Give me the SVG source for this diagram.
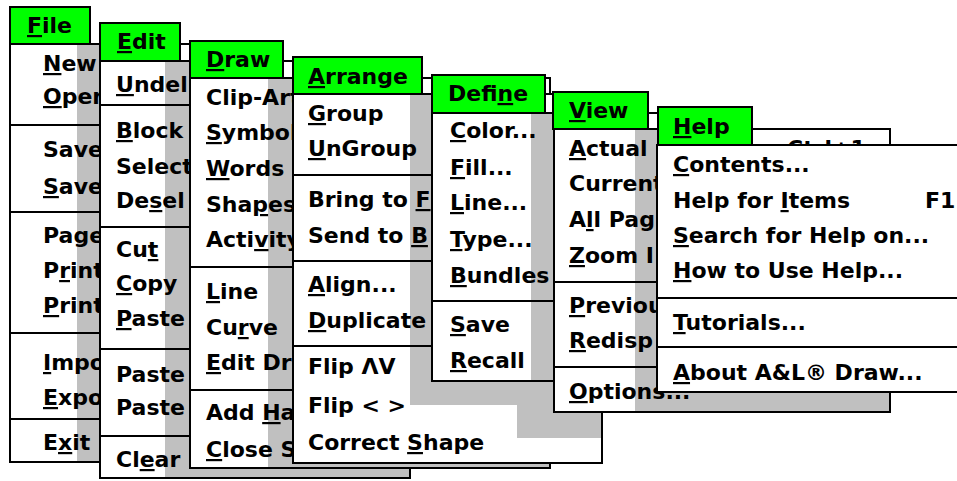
<svg xmlns="http://www.w3.org/2000/svg" width="957" height="481" viewBox="0 0 957 481">
<style>
  text { font-family: "DejaVu Sans", "Liberation Sans", sans-serif; font-weight: bold; font-size: 22px; fill: #000; }
  .u { text-decoration: underline; text-decoration-thickness: 2px; text-underline-offset: 3px; }
  .body { fill: #fff; }
  .frame { fill: none; stroke: #000; stroke-width: 2; }
  .shade { fill: #c0c0c0; }
  .bar { fill: #00ff00; stroke: #000; stroke-width: 2; }
  .sep { stroke: #000; stroke-width: 2; }
</style>
<defs>
  <!-- only the strip of the View menu above the Help menu shows the shortcut -->
  <clipPath id="view-top-strip">
    <rect x="752" y="129" width="138" height="16"/>
  </clipPath>
</defs>
<rect width="957" height="481" fill="#fff"/>

<!-- File menu (back-most) -->
<g id="menu-file">
  <rect class="body" x="10" y="44" width="190" height="418"/>
  <rect class="shade" x="77" y="44" width="30" height="418"/>
  <path class="sep" d="M10 125H200M10 212H200M10 333H200M10 419H200"/>
  <text x="43" y="71"><tspan class="u">N</tspan>ew</text>
  <text x="43" y="104"><tspan class="u">O</tspan>pen</text>
  <text x="43" y="157">Save</text>
  <text x="43" y="194"><tspan class="u">S</tspan>ave</text>
  <text x="43" y="243">Page</text>
  <text x="43" y="278">P<tspan class="u">r</tspan>int</text>
  <text x="43" y="313"><tspan class="u">P</tspan>rint</text>
  <text x="43" y="370"><tspan class="u">I</tspan>mpo</text>
  <text x="43" y="405"><tspan class="u">E</tspan>xpo</text>
  <text x="43" y="450">E<tspan class="u">x</tspan>it</text>
  <rect class="frame" x="10" y="44" width="190" height="418"/>
  <rect class="bar" x="10" y="7" width="80" height="37"/>
  <text x="27" y="33"><tspan class="u">F</tspan>ile</text>
</g>

<!-- Edit menu -->
<g id="menu-edit">
  <rect class="body" x="100" y="61" width="310" height="417"/>
  <rect class="shade" x="165" y="61" width="25" height="417"/>
  <rect class="shade" x="165" y="464" width="245" height="14"/>
  <path class="sep" d="M100 105H410M100 227H410M100 349H410M100 436H410"/>
  <text x="116" y="92"><tspan class="u">U</tspan>ndel</text>
  <text x="116" y="138"><tspan class="u">B</tspan>lock</text>
  <text x="116" y="174">Select</text>
  <text x="116" y="208">De<tspan class="u">s</tspan>el</text>
  <text x="116" y="257">Cu<tspan class="u">t</tspan></text>
  <text x="116" y="291"><tspan class="u">C</tspan>opy</text>
  <text x="116" y="326"><tspan class="u">P</tspan>aste</text>
  <text x="116" y="382">Paste</text>
  <text x="116" y="415">Paste</text>
  <text x="116" y="467">Cl<tspan class="u">e</tspan>ar</text>
  <rect class="frame" x="100" y="61" width="310" height="417"/>
  <rect class="bar" x="100" y="23" width="80" height="38"/>
  <text x="117" y="49"><tspan class="u">E</tspan>dit</text>
</g>

<!-- Draw menu -->
<g id="menu-draw">
  <rect class="body" x="190" y="78" width="360" height="390"/>
  <rect class="shade" x="268" y="78" width="25" height="390"/>
  <rect class="shade" x="268" y="460" width="282" height="8"/>
  <path class="sep" d="M190 267H550M190 390H550"/>
  <text x="206" y="105">Clip-Art</text>
  <text x="206" y="140"><tspan class="u">S</tspan>ymbol</text>
  <text x="206" y="176"><tspan class="u">W</tspan>ords</text>
  <text x="206" y="212">Sha<tspan class="u">p</tspan>es</text>
  <text x="206" y="247">Acti<tspan class="u">v</tspan>ity</text>
  <text x="206" y="299"><tspan class="u">L</tspan>ine</text>
  <text x="206" y="335">Cu<tspan class="u">r</tspan>ve</text>
  <text x="206" y="370"><tspan class="u">E</tspan>dit Dr</text>
  <text x="206" y="420">Add <tspan class="u">H</tspan>a</text>
  <text x="206" y="457"><tspan class="u">C</tspan>lose S</text>
  <rect class="frame" x="190" y="78" width="360" height="390"/>
  <rect class="bar" x="190" y="41" width="93" height="37"/>
  <text x="206" y="67"><tspan class="u">D</tspan>raw</text>
</g>

<!-- Arrange menu -->
<g id="menu-arrange">
  <rect class="body" x="293" y="94" width="309" height="369"/>
  <rect class="shade" x="410" y="94" width="22" height="311"/>
  <rect class="shade" x="410" y="380" width="192" height="25"/>
  <rect class="shade" x="517" y="380" width="85" height="58"/>
  <path class="sep" d="M293 175H602M293 261H602M293 346H602"/>
  <text x="308" y="121"><tspan class="u">G</tspan>roup</text>
  <text x="308" y="156"><tspan class="u">U</tspan>nGroup</text>
  <text x="308" y="207">Bring to <tspan class="u">F</tspan></text>
  <text x="308" y="243">Send to <tspan class="u">B</tspan></text>
  <text x="308" y="292"><tspan class="u">A</tspan>lign...</text>
  <text x="308" y="328"><tspan class="u">D</tspan>uplicate</text>
  <text x="308" y="374">Flip ΛV</text>
  <text x="308" y="413">Flip &lt; &gt;</text>
  <text x="308" y="450">Correct <tspan class="u">S</tspan>hape</text>
  <rect class="frame" x="293" y="94" width="309" height="369"/>
  <rect class="bar" x="293" y="57" width="129" height="37"/>
  <text x="308" y="84"><tspan class="u">A</tspan>rrange</text>
</g>

<!-- Define menu -->
<g id="menu-define">
  <rect class="body" x="432" y="113" width="268" height="268"/>
  <rect class="shade" x="531" y="113" width="23" height="268"/>
  <path class="sep" d="M432 301H700"/>
  <text x="450" y="138"><tspan class="u">C</tspan>olor...</text>
  <text x="450" y="175"><tspan class="u">F</tspan>ill...</text>
  <text x="450" y="210"><tspan class="u">L</tspan>ine...</text>
  <text x="450" y="247"><tspan class="u">T</tspan>ype...</text>
  <text x="450" y="283"><tspan class="u">B</tspan>undles</text>
  <text x="450" y="332"><tspan class="u">S</tspan>ave</text>
  <text x="450" y="368"><tspan class="u">R</tspan>ecall</text>
  <rect class="frame" x="432" y="113" width="268" height="268"/>
  <rect class="bar" x="432" y="75" width="113" height="38"/>
  <text x="448" y="101">Defi<tspan class="u">n</tspan>e</text>
</g>

<!-- View menu -->
<g id="menu-view">
  <rect class="body" x="554" y="129" width="336" height="283"/>
  <rect class="shade" x="635" y="129" width="22" height="283"/>
  <rect class="shade" x="635" y="392" width="255" height="20"/>
  <path class="sep" d="M554 282H890M554 367H890"/>
  <text x="569" y="156"><tspan class="u">A</tspan>ctual</text>
  <text x="787" y="156" clip-path="url(#view-top-strip)">Ctrl+1</text>
  <text x="569" y="191">Current</text>
  <text x="569" y="227">A<tspan class="u">l</tspan>l Pag</text>
  <text x="569" y="263"><tspan class="u">Z</tspan>oom I</text>
  <text x="569" y="313"><tspan class="u">P</tspan>reviou</text>
  <text x="569" y="348"><tspan class="u">R</tspan>edisp</text>
  <text x="569" y="399"><tspan class="u">O</tspan>ptions...</text>
  <rect class="frame" x="554" y="129" width="336" height="283"/>
  <rect class="bar" x="553" y="92" width="95" height="37"/>
  <text x="569" y="118"><tspan class="u">V</tspan>iew</text>
</g>

<!-- Help menu (front-most) -->
<g id="menu-help">
  <rect class="body" x="657" y="145" width="310" height="247"/>
  <path class="sep" d="M657 298H967M657 347H967"/>
  <text x="673" y="172"><tspan class="u">C</tspan>ontents...</text>
  <text x="673" y="208">Help for <tspan class="u">I</tspan>tems</text>
  <text x="925" y="208">F1</text>
  <text x="673" y="243"><tspan class="u">S</tspan>earch for Help on...</text>
  <text x="673" y="278"><tspan class="u">H</tspan>ow to Use Help...</text>
  <text x="673" y="330"><tspan class="u">T</tspan>utorials...</text>
  <text x="673" y="380"><tspan class="u">A</tspan>bout A&amp;L® Draw...</text>
  <rect class="frame" x="657" y="145" width="310" height="247"/>
  <rect class="bar" x="658" y="107" width="94" height="38"/>
  <text x="673" y="134"><tspan class="u">H</tspan>elp</text>
</g>
</svg>
